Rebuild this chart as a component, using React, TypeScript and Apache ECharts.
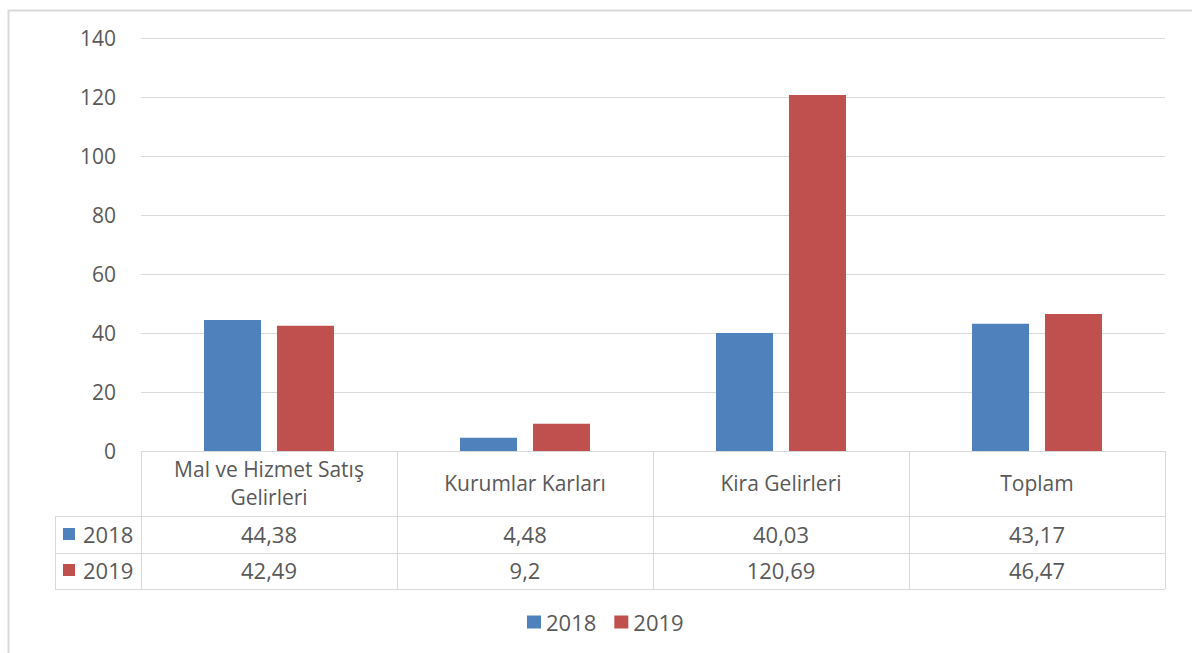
import React, { useEffect, useRef } from "react";
import * as echarts from "echarts";

const categories = ["Mal ve Hizmet Satış\nGelirleri", "Kurumlar Karları", "Kira Gelirleri", "Toplam"];
const seriesNames = ["2018", "2019"];
const values2018 = [44.38, 4.48, 40.03, 43.17];
const values2019 = [42.49, 9.2, 120.69, 46.47];
const colors = ["#4F81BD", "#C0504D"];

const FONT = "'Open Sans', 'Liberation Sans', sans-serif";
const TXT = "#595959";
const LINE = "#d9d9d9";

const GL = 141, GR = 1165, GT = 38, GB = 451;
const ROW1 = 516, ROW2 = 553, ROW3 = 589;
const TL = 55;

const fmt = (v: number) => String(v).replace(".", ",");

export default function App() {
  const ref = useRef<HTMLDivElement>(null);
  useEffect(() => {
    const chart = echarts.init(ref.current!, null, { renderer: "svg" });
    const n = categories.length;
    const cw = (GR - GL) / n;
    const graphics: any[] = [];
    graphics.push({ type: "rect", shape: { x: 8.5, y: 10.5, width: 1300, height: 800 }, style: { fill: "none", stroke: LINE, lineWidth: 2 }, silent: true });
    const hline = (x1: number, x2: number, y: number) => graphics.push({ type: "line", shape: { x1, y1: y + 0.5, x2, y2: y + 0.5 }, style: { stroke: LINE, lineWidth: 1 }, silent: true });
    const vline = (x: number, y1: number, y2: number) => graphics.push({ type: "line", shape: { x1: x + 0.5, y1, x2: x + 0.5, y2 }, style: { stroke: LINE, lineWidth: 1 }, silent: true });
    hline(GL, GR, GB);
    hline(TL, GR, ROW1);
    hline(TL, GR, ROW2);
    hline(TL, GR, ROW3);
    for (let i = 0; i <= n; i++) vline(GL + i * cw, GB, ROW3);
    vline(TL, ROW1, ROW3);
    const rows = [values2018, values2019];
    const rowMid = [534, 570];
    rows.forEach((vals, r) => {
      graphics.push({ type: "rect", shape: { x: 63, y: rowMid[r] - 6, width: 12, height: 12 }, style: { fill: colors[r] }, silent: true });
      graphics.push({ type: "text", x: 83, y: rowMid[r], style: { text: seriesNames[r], fill: TXT, font: `22px ${FONT}`, textAlign: "left", textVerticalAlign: "middle" }, silent: true });
      vals.forEach((v, i) => {
        graphics.push({ type: "text", x: GL + (i + 0.5) * cw, y: rowMid[r], style: { text: fmt(v), fill: TXT, font: `22px ${FONT}`, textAlign: "center", textVerticalAlign: "middle" }, silent: true });
      });
    });
    chart.setOption({
      animation: false,
      textStyle: { fontFamily: FONT },
      grid: { left: GL, right: 1192 - GR, top: GT, bottom: 653 - GB },
      legend: {
        data: seriesNames,
        top: 605,
        left: 522,
        icon: "rect",
        itemWidth: 14,
        itemHeight: 13,
        itemGap: 18,
        textStyle: { color: TXT, fontSize: 22, fontFamily: FONT, lineHeight: 24 },
      },
      xAxis: {
        type: "category",
        data: categories,
        axisLine: { show: false },
        axisTick: { show: false },
        axisLabel: { show: true, interval: 0, color: TXT, fontSize: 21, fontFamily: FONT, lineHeight: 28, margin: 32, verticalAlign: "middle" },
      },
      yAxis: {
        type: "value",
        min: 0,
        max: 140,
        interval: 20,
        axisLine: { show: false },
        axisTick: { show: false },
        axisLabel: { color: TXT, fontSize: 21, fontFamily: FONT, margin: 25 },
        splitLine: { lineStyle: { color: LINE, width: 1 } },
      },
      series: [
        { name: seriesNames[0], type: "bar", data: values2018, barWidth: 57, barGap: "28%", itemStyle: { color: colors[0] } },
        { name: seriesNames[1], type: "bar", data: values2019, barWidth: 57, barGap: "28%", itemStyle: { color: colors[1] } },
      ],
      graphic: graphics,
    });
    return () => chart.dispose();
  }, []);
  return <div ref={ref} style={{ position: "fixed", left: 0, top: 0, width: 1192, height: 653, background: "#fff" }} />;
}
